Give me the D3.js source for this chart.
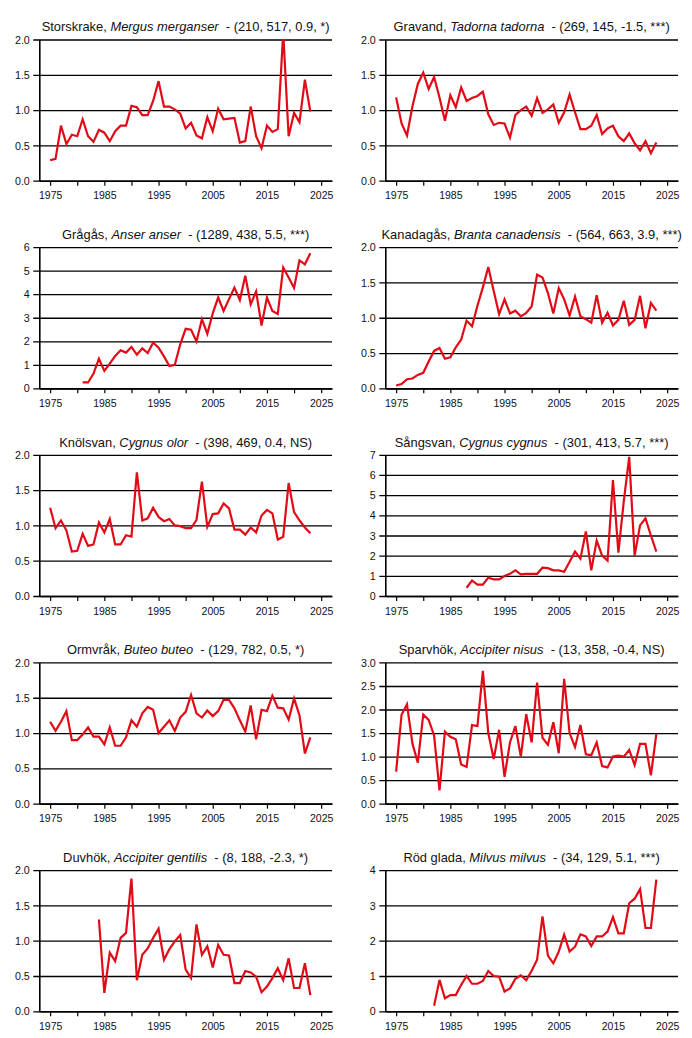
<!DOCTYPE html>
<html><head><meta charset="utf-8">
<script src="https://cdn.jsdelivr.net/npm/d3@7"></script>
<style>body{margin:0;background:#fff}svg{display:block}</style>
</head><body><svg id="c" width="692" height="1038"></svg>
<script>
// ---- data ----
const storskrake = [0.29,0.31,0.78,0.52,0.65,0.63,0.87,0.63,0.55,0.72,0.68,0.56,0.70,0.78,0.78,1.06,1.04,0.93,0.93,1.13,1.41,1.05,1.05,1.01,0.95,0.74,0.82,0.64,0.60,0.90,0.70,1.02,0.87,0.88,0.89,0.54,0.56,1.05,0.63,0.46,0.78,0.69,0.73,2.1,0.63,0.96,0.83,1.43,0.98];
const gravand = [1.18,0.81,0.64,1.05,1.37,1.53,1.30,1.47,1.18,0.85,1.21,1.04,1.32,1.13,1.17,1.20,1.26,0.94,0.79,0.82,0.81,0.61,0.93,1.00,1.05,0.92,1.17,0.96,1.01,1.08,0.82,0.97,1.22,0.97,0.73,0.73,0.78,0.93,0.66,0.74,0.78,0.63,0.56,0.67,0.53,0.43,0.56,0.39,0.54];
const gragas = [0.25,0.25,0.63,1.26,0.74,1.05,1.38,1.62,1.52,1.76,1.43,1.70,1.50,1.95,1.73,1.36,0.95,1.00,1.87,2.53,2.49,1.99,2.94,2.32,3.19,3.86,3.29,3.79,4.28,3.75,4.79,3.57,4.12,2.67,3.86,3.29,3.16,5.13,4.71,4.27,5.44,5.27,5.74];
const kanadagas = [0.04,0.06,0.13,0.14,0.19,0.22,0.38,0.53,0.57,0.42,0.44,0.58,0.69,0.96,0.88,1.17,1.43,1.72,1.38,1.05,1.26,1.06,1.10,1.02,1.07,1.16,1.61,1.57,1.35,1.06,1.42,1.26,1.03,1.30,1.02,0.98,0.93,1.32,0.93,1.07,0.89,0.97,1.24,0.90,0.97,1.31,0.85,1.21,1.10];
const knolsvan = [1.25,0.96,1.07,0.93,0.63,0.64,0.88,0.71,0.73,1.04,0.90,1.09,0.73,0.73,0.86,0.84,1.75,1.07,1.10,1.25,1.12,1.06,1.09,1.00,0.99,0.96,0.96,1.08,1.62,0.98,1.16,1.17,1.31,1.24,0.94,0.94,0.87,0.97,0.90,1.14,1.22,1.17,0.80,0.84,1.60,1.19,1.07,0.97,0.89];
const sangsvan = [0.41,0.77,0.56,0.56,0.91,0.82,0.82,0.99,1.10,1.27,1.07,1.10,1.10,1.10,1.40,1.38,1.27,1.27,1.20,1.70,2.20,1.85,3.20,1.27,2.75,2.00,1.75,5.75,2.15,4.70,6.90,2.00,3.50,3.85,3.00,2.20];
const ormvrak = [1.16,1.03,1.16,1.31,0.90,0.90,0.98,1.08,0.95,0.95,0.84,1.08,0.82,0.82,0.94,1.18,1.09,1.28,1.37,1.33,1.00,1.09,1.18,1.03,1.22,1.30,1.54,1.28,1.22,1.32,1.24,1.31,1.47,1.47,1.35,1.18,1.02,1.39,0.91,1.33,1.31,1.53,1.36,1.35,1.19,1.49,1.25,0.71,0.94];
const sparvhok = [0.68,1.89,2.11,1.28,0.87,1.89,1.78,1.45,0.28,1.53,1.42,1.37,0.83,0.78,1.67,1.65,2.82,1.50,0.95,1.57,0.57,1.30,1.65,1.00,1.90,1.30,2.57,1.40,1.25,1.73,1.07,2.65,1.50,1.20,1.67,1.05,1.03,1.30,0.80,0.77,1.00,1.02,1.00,1.14,0.82,1.27,1.27,0.60,1.48];
const duvhok = [1.30,0.26,0.83,0.71,1.04,1.11,1.88,0.44,0.80,0.89,1.04,1.17,0.73,0.88,0.99,1.08,0.59,0.47,1.23,0.80,0.92,0.62,0.94,0.80,0.79,0.40,0.40,0.57,0.55,0.49,0.27,0.35,0.47,0.61,0.44,0.75,0.33,0.33,0.68,0.23];
const rodGlada = [0.16,0.89,0.37,0.46,0.46,0.75,1.00,0.78,0.78,0.86,1.14,1.00,0.98,0.56,0.65,0.92,1.02,0.88,1.15,1.46,2.69,1.58,1.36,1.69,2.17,1.69,1.83,2.18,2.12,1.85,2.12,2.12,2.26,2.67,2.21,2.21,3.06,3.19,3.46,2.36,2.36,3.73];

const seriesValues = [storskrake, gravand, gragas, kanadagas, knolsvan, sangsvan, ormvrak, sparvhok, duvhok, rodGlada];
const startYears = [1975, 1975, 1981, 1975, 1975, 1988, 1975, 1975, 1984, 1982];
const commonNames = ["Storskrake", "Gravand", "Grågås", "Kanadagås", "Knölsvan", "Sångsvan", "Ormvråk", "Sparvhök", "Duvhök", "Röd glada"];
const latinNames = ["Mergus merganser", "Tadorna tadorna", "Anser anser", "Branta canadensis", "Cygnus olor", "Cygnus cygnus", "Buteo buteo", "Accipiter nisus", "Accipiter gentilis", "Milvus milvus"];
const statsText = ["(210, 517, 0.9, *)", "(269, 145, -1.5, ***)", "(1289, 438, 5.5, ***)", "(564, 663, 3.9, ***)", "(398, 469, 0.4, NS)", "(301, 413, 5.7, ***)", "(129, 782, 0.5, *)", "(13, 358, -0.4, NS)", "(8, 188, -2.3, *)", "(34, 129, 5.1, ***)"];
const yMaxes = [2, 2, 6, 2, 2, 7, 2, 3, 2, 4];
const yStepSizes = [0.5, 0.5, 1, 0.5, 0.5, 1, 0.5, 0.5, 0.5, 1];
const xTickYears = [1975, 1980, 1985, 1990, 1995, 2000, 2005, 2010, 2015, 2020, 2025];
const xLabelYears = [1975, 1985, 1995, 2005, 2015, 2025];

// ---- layout ----
const svg = d3.select("#c");
const colX = [0, 346];
const rowH = 207.65;
const plotLeft = 39.3, plotW = 292.7, plotTop = 39.5, plotH = 141.2;
const font = "'Liberation Sans', Arial, sans-serif";
const red = "#e20a16";

seriesValues.forEach((vals, i) => {
  const col = i % 2, row = Math.floor(i / 2);
  const g = svg.append("g").attr("transform", `translate(${colX[col] + plotLeft},${row * rowH + plotTop})`);
  const x = d3.scaleLinear().domain([1973, 2027]).range([0, plotW]);
  const y = d3.scaleLinear().domain([0, yMaxes[i]]).range([plotH, 0]);
  const yTicks = d3.range(0, yMaxes[i] + 1e-9, yStepSizes[i]);
  const fmt = yStepSizes[i] < 1 ? d3.format(".1f") : d3.format("d");

  // y axis with gridlines
  const ya = g.append("g").call(d3.axisLeft(y).tickValues(yTicks).tickFormat(fmt).tickSizeInner(-plotW).tickSizeOuter(0));
  ya.select(".domain").attr("stroke", "#000").attr("stroke-width", 1.6);
  ya.selectAll(".tick line").attr("x1", -6).attr("stroke", "#000").attr("stroke-width", 1.3);
  ya.selectAll(".tick text").attr("x", -9.5).attr("dy", "0.34em")
    .attr("font-family", font).attr("font-size", 10.7).attr("fill", "#111");

  // x axis
  const xa = g.append("g").attr("transform", `translate(0,${plotH})`)
    .call(d3.axisBottom(x).tickValues(xTickYears).tickFormat(d => xLabelYears.includes(d) ? d : "").tickSizeInner(5).tickSizeOuter(0));
  xa.select(".domain").attr("stroke", "#000").attr("stroke-width", 1.6);
  xa.selectAll(".tick line").attr("stroke", "#000").attr("stroke-width", 1.2);
  xa.selectAll(".tick text").attr("y", 11.3)
    .attr("font-family", font).attr("font-size", 10.5).attr("fill", "#111");

  // clip
  const cid = "clip" + i;
  g.append("clipPath").attr("id", cid).append("rect").attr("x", 0).attr("y", -0.5).attr("width", plotW).attr("height", plotH + 1);

  const data = vals.map((v, k) => ({year: startYears[i] + k, v}));
  g.append("path").datum(data)
    .attr("clip-path", `url(#${cid})`)
    .attr("fill", "none").attr("stroke", red).attr("stroke-width", 2.2).attr("stroke-linejoin", "miter")
    .attr("d", d3.line().x(d => x(d.year)).y(d => y(d.v)));

  // title
  const t = g.append("text").attr("x", plotW / 2).attr("y", -8.3).attr("text-anchor", "middle")
    .attr("font-family", font).attr("font-size", 12.9).attr("fill", "#111");
  t.append("tspan").text(commonNames[i] + ", ");
  t.append("tspan").attr("font-style", "italic").text(latinNames[i]);
  t.append("tspan").text("  - " + statsText[i]).attr("xml:space", "preserve");
});
</script></body></html>
